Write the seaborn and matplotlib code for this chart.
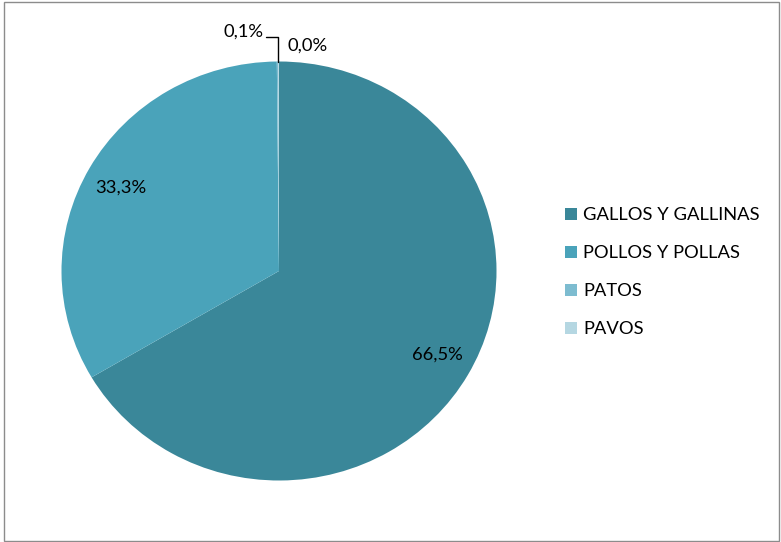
import matplotlib
matplotlib.use("Agg")
import matplotlib.pyplot as plt
import seaborn as sns
from matplotlib.patches import Rectangle, Patch

categories = ["GALLOS Y GALLINAS", "POLLOS Y POLLAS", "PATOS", "PAVOS"]
values = [66.5, 33.3, 0.12, 0.04]
colors = ["#3A8799", "#4AA3BA", "#7DBCD0", "#B5D7E2"]

sns.set_theme(style="white")
plt.rcParams['font.family'] = ['Lato', 'DejaVu Sans']

W, H = 781, 542
fig = plt.figure(figsize=(W / 100, H / 100), dpi=100)
fig.patch.set_facecolor("white")

cx, cy, rx, ry = 279, 271, 217.5, 209.5
ax = fig.add_axes([(cx - rx) / W, (H - cy - ry) / H, 2 * rx / W, 2 * ry / H])
wedges, _ = ax.pie(values, colors=colors, startangle=90, counterclock=False,
                   wedgeprops=dict(linewidth=0))
ax.set_aspect('auto')
ax.set_xlim(-1, 1)
ax.set_ylim(-1, 1)
ax.axis('off')

total = sum(values)
labels = [f"{v / total * 100:.1f}%".replace('.', ',') for v in values]

def px(x, y):
    return ((x - cx) / rx, (cy - y) / ry)

FS = 13.2
pos = [(437, 355), (121, 188), (243, 32), (308, 46)]
for lab, (x, y) in zip(labels, pos):
    dx, dy = px(x, y)
    ax.text(dx, dy, lab, ha='center', va='center', fontsize=FS, color='black', clip_on=False)

# leader line for the 0,1% label
p1 = px(266, 37); p2 = px(278, 37); p3 = px(278, 62)
ax.plot([p1[0], p2[0], p3[0]], [p1[1], p2[1], p3[1]], color='black', lw=1, clip_on=False)

handles = [Patch(facecolor=c, edgecolor='none') for c in colors]
fig.legend(handles, categories, loc='center left', bbox_to_anchor=(565 / W, (H - 272.5) / H),
           frameon=False, fontsize=FS, handlelength=0.65, handleheight=0.65,
           handletextpad=0.35, labelspacing=1.2, borderpad=0, borderaxespad=0,
           labelcolor='black')

fig.patches.append(Rectangle((3.5 / W, 1.5 / H), 775 / W, 539 / H, transform=fig.transFigure,
                             fill=False, edgecolor='#8c8c8c', linewidth=1))

fig.savefig("out.png", dpi=100)
